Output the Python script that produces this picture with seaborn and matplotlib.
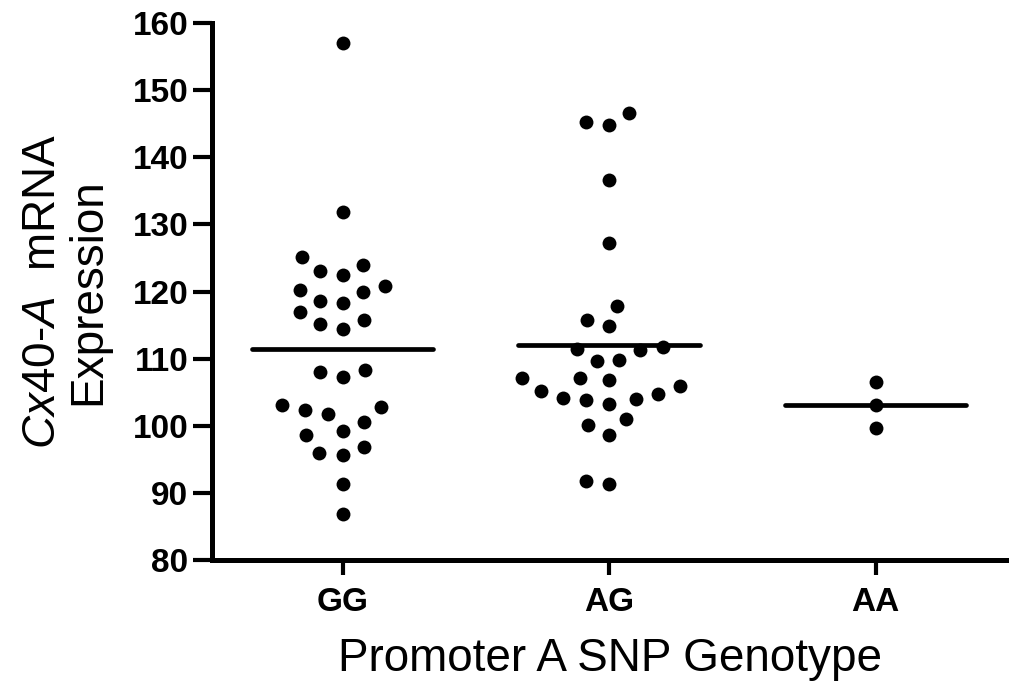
"""
Dot plot: Cx40-A mRNA expression by promoter A SNP genotype,
with a horizontal line at each group mean.
"""

import pandas as pd
import numpy as np
import matplotlib
matplotlib.use("Agg")
import matplotlib.pyplot as plt
import seaborn as sns

sns.set_style("ticks")
plt.rcParams["font.family"] = ["Liberation Sans", "DejaVu Sans"]
plt.rcParams["mathtext.fontset"] = "custom"
plt.rcParams["mathtext.it"] = "Liberation Sans:italic"
plt.rcParams["mathtext.rm"] = "Liberation Sans"
for key in ["text.color", "axes.labelcolor", "xtick.color", "ytick.color",
            "axes.edgecolor"]:
    plt.rcParams[key] = "black"

# ------------------------------------------------------------------
# Data
# ------------------------------------------------------------------
genotypes = ["GG", "AG", "AA"]

gg_values = [157.0, 131.8, 125.1, 123.0, 122.4, 124.0, 120.8, 119.9, 120.3,
             118.3, 118.6, 116.9, 115.2, 114.4, 115.7, 108.3, 107.3, 108.0,
             102.8, 101.8, 100.6, 102.4, 103.1, 99.2, 98.6, 96.9, 95.7, 95.9,
             91.4, 86.9]
ag_values = [146.6, 144.8, 145.3, 136.6, 127.2, 117.9, 115.8, 114.8, 111.7,
             111.3, 111.4, 109.8, 109.6, 107.1, 107.1, 106.8, 105.9, 104.8,
             104.0, 103.3, 103.9, 104.1, 105.2, 100.2, 98.7, 101.0, 91.4, 91.8]
aa_values = [106.6, 103.1, 99.7]

yticks = list(range(80, 161, 10))

df = pd.concat([
    pd.DataFrame({"genotype": g, "expression": v})
    for g, v in zip(genotypes, [gg_values, ag_values, aa_values])
], ignore_index=True)
means = df.groupby("genotype")["expression"].mean().reindex(genotypes)

# ------------------------------------------------------------------
# Plot
# ------------------------------------------------------------------
fig = plt.figure(figsize=(10.09, 6.90), dpi=100)
ax = fig.add_axes([0.21, 0.188, 0.79, 0.779])

# a wide transparent edge keeps the swarm spread out like the original
sns.swarmplot(data=df, x="genotype", y="expression", order=genotypes,
              color="black", size=10, linewidth=6, edgecolor=(1, 1, 1, 0),
              ax=ax)

# mean lines
for i, g in enumerate(genotypes):
    ax.hlines(means[g], i - 0.34, i + 0.34, color="black", linewidth=3.4,
              capstyle="round", zorder=1)

ax.set_xlim(-0.49, 2.5)
ax.set_ylim(80, 160)
ax.set_yticks(yticks)

sns.despine(ax=ax)
for side in ["left", "bottom"]:
    ax.spines[side].set_linewidth(3.6)
ax.tick_params(axis="y", length=14, width=3, pad=3, labelsize=24)
ax.tick_params(axis="x", length=11, width=3, pad=8, labelsize=24)
for lab in ax.get_xticklabels() + ax.get_yticklabels():
    lab.set_fontweight("bold")

ax.set_xlabel("Promoter A SNP Genotype", fontsize=33, labelpad=14)
ax.set_ylabel("$\\mathit{Cx40}$-$\\mathit{A}$  mRNA\nExpression",
              fontsize=33, labelpad=16, linespacing=1.05)

fig.savefig("out.png", dpi=100)
plt.close(fig)
